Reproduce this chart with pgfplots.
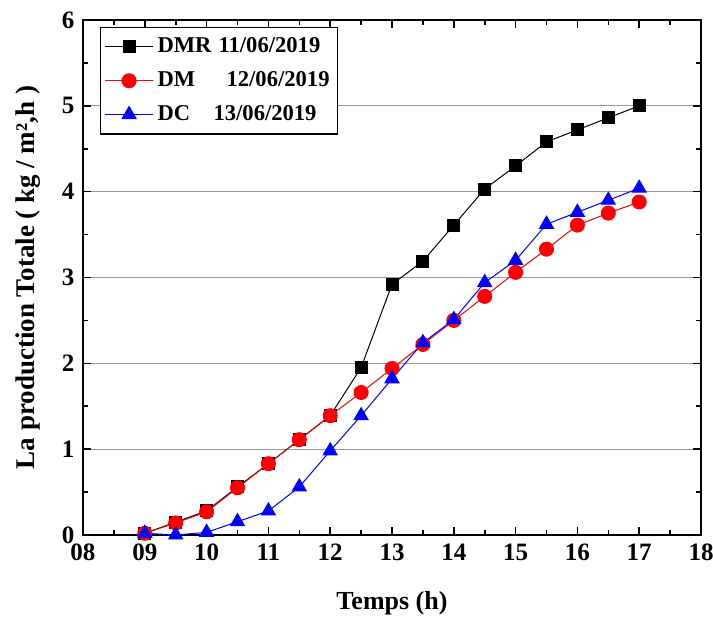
\documentclass[border=0pt]{standalone}
\usepackage{fontspec}
\setmainfont{Liberation Serif}
\usepackage{pgfplots}
\pgfplotsset{compat=1.18}
\usetikzlibrary{calc}
\begin{document}
\fontsize{12.5}{15}\selectfont\bfseries
\begin{tikzpicture}
\begin{axis}[
  scale only axis,
  width=309pt, height=257.5pt,
  xmin=8, xmax=18, ymin=0, ymax=6,
  xtick={8,...,18},
  xticklabels={08,09,10,11,12,13,14,15,16,17,18},
  ytick={0,...,6},
  minor xtick={8.5,9.5,...,17.5},
  minor ytick={0.5,1.5,...,5.5},
  tick align=inside,
  major tick length=4pt,
  minor tick length=2.5pt,
  tick style={black, line width=0.8pt},
  axis line style={black, line width=1pt},
  ymajorgrids,
  major grid style={gray!80, line width=0.6pt},
  /pgf/number format/assume math mode=true,
  ticklabel style={font=\fontsize{12.5}{15}\selectfont\bfseries},
  xlabel style={font=\fontsize{13}{15}\selectfont\bfseries, yshift=-7pt},
  ylabel style={font=\fontsize{13.5}{16}\selectfont\bfseries, yshift=2pt},
  xlabel={Temps (h)},
  ylabel={La production Totale ( kg / m²,h )},
  legend style={at={(0,1)}, anchor=north west, xshift=8.5pt, yshift=-3.5pt,
    draw=black, line width=0.6pt, font=\fontsize{11.3}{14}\selectfont\bfseries,
    row sep=3.5pt, inner xsep=2pt, inner ysep=3pt},
  legend cell align=left,
  legend image code/.code={
    \draw[#1] (0pt,0pt) -- (24pt,0pt);
    \draw[#1, mark repeat=2, mark phase=2] plot coordinates {(0pt,0pt) (12pt,0pt) (24pt,0pt)};
  },
]
\addplot[black, line width=0.5pt, mark=square*, mark size=3pt, mark options={fill=black}] coordinates {
(9,0.02) (9.5,0.15) (10,0.28) (10.5,0.56) (11,0.83) (11.5,1.11) (12,1.39)
(12.5,1.95) (13,2.92) (13.5,3.19) (14,3.61) (14.5,4.03) (15,4.30) (15.5,4.58)
(16,4.72) (16.5,4.86) (17,5.0)};
\addlegendentry{\makebox[30.5pt][l]{DMR}11/06/2019}
\addplot[red, line width=0.5pt, mark=*, mark size=3.5pt, mark options={fill=red}] coordinates {
(9,0.02) (9.5,0.14) (10,0.27) (10.5,0.55) (11,0.83) (11.5,1.11) (12,1.39)
(12.5,1.66) (13,1.94) (13.5,2.22) (14,2.50) (14.5,2.78) (15,3.06) (15.5,3.33)
(16,3.61) (16.5,3.75) (17,3.88)};
\addlegendentry{\makebox[34.5pt][l]{DM}12/06/2019}
\addplot[blue, line width=0.5pt, mark=triangle*, mark size=4pt, mark options={fill=blue}] coordinates {
(9,0.02) (9.5,0.0) (10,0.03) (10.5,0.155) (11,0.28) (11.5,0.56) (12,0.98)
(12.5,1.39) (13,1.82) (13.5,2.24) (14,2.51) (14.5,2.94) (15,3.2) (15.5,3.62)
(16,3.76) (16.5,3.90) (17,4.04)};
\addlegendentry{\makebox[28pt][l]{DC}13/06/2019}
\end{axis}
\pgfresetboundingbox
\path[use as bounding box] ($(current axis.south west)+(-41.5pt,-43pt)$) rectangle ($(current axis.north east)+(6pt,10pt)$);
\end{tikzpicture}
\end{document}
